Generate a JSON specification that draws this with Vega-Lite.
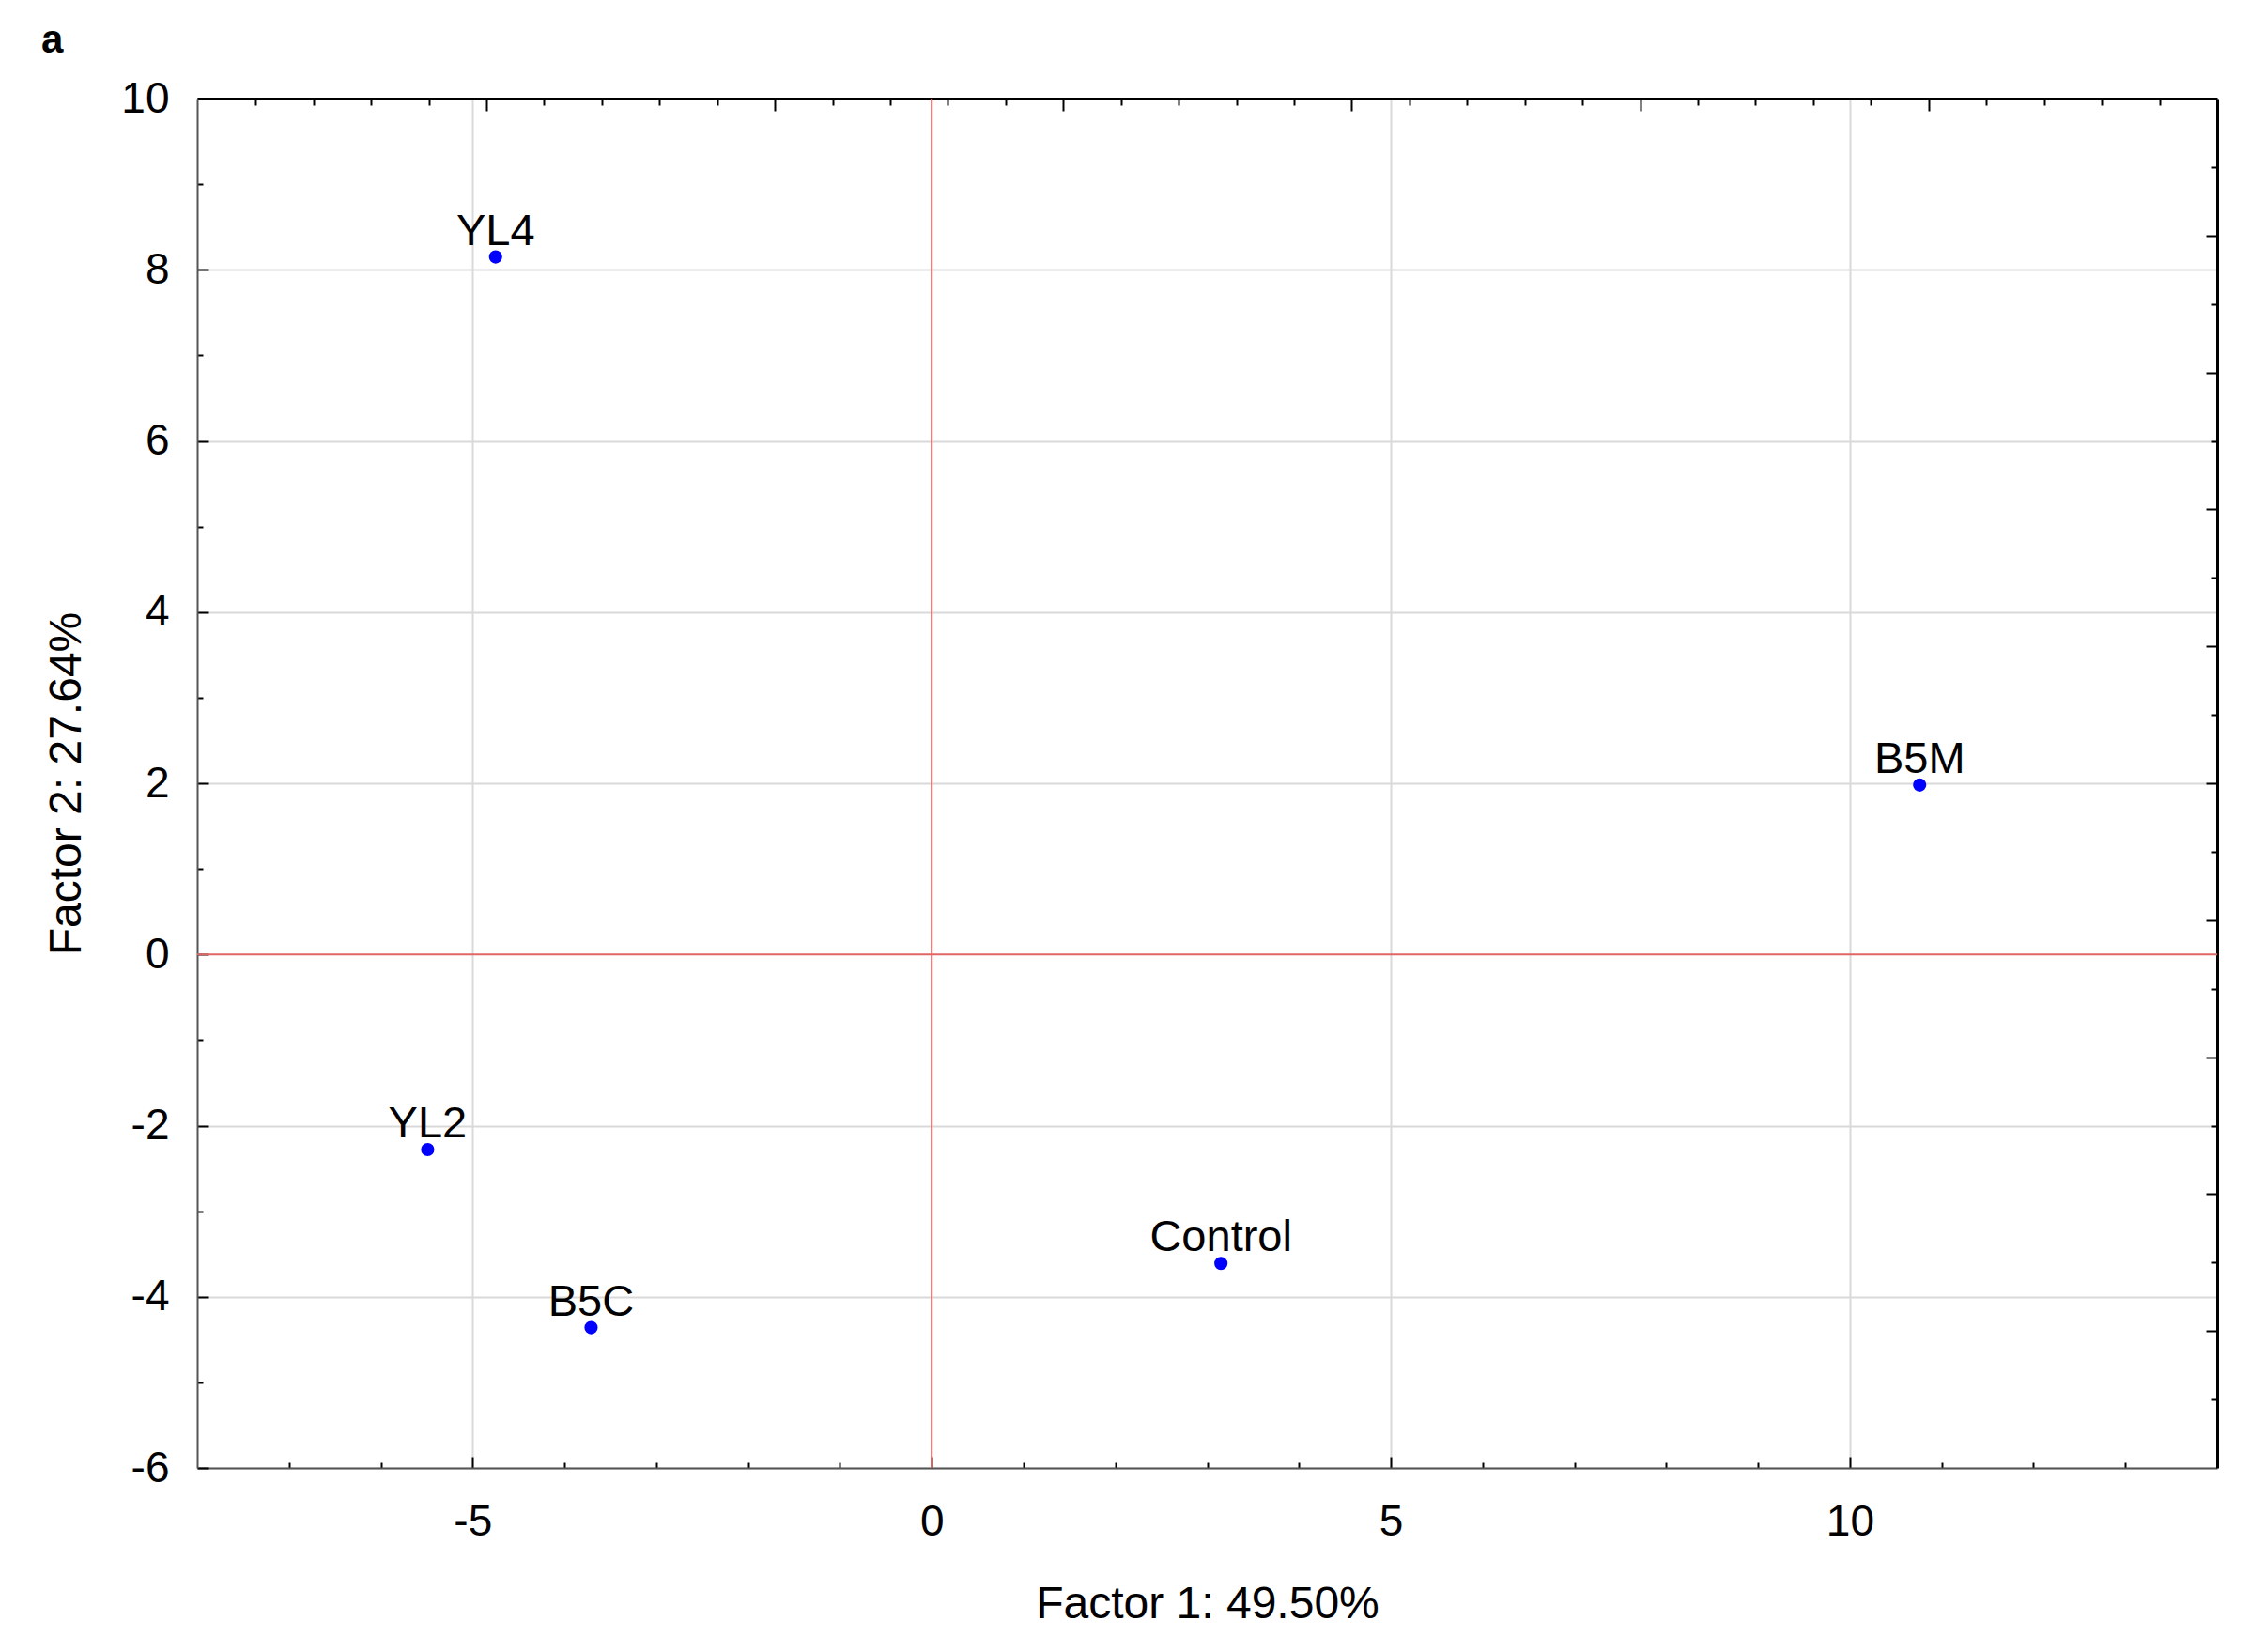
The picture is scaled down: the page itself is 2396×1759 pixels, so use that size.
{
  "$schema": "https://vega.github.io/schema/vega-lite/v6.json",
  "width": 2151,
  "height": 1458,
  "autosize": {"type": "none"},
  "padding": {"left": 210, "top": 105, "right": 35, "bottom": 196},
  "background": "white",
  "title": {
    "text": "a",
    "anchor": "start",
    "frame": "group",
    "orient": "top",
    "baseline": "alphabetic",
    "offset": 0,
    "dy": 16,
    "dx": -166,
    "font": "Liberation Sans",
    "fontSize": 42,
    "fontWeight": "bold",
    "color": "black"
  },
  "config": {
    "view": {"stroke": null},
    "font": "Liberation Sans",
    "axis": {"labelFont": "Liberation Sans", "titleFont": "Liberation Sans"}
  },
  "resolve": {"axis": {"x": "independent", "y": "independent"}},
  "data": {
    "values": [
      {"label": "YL4", "f1": -4.75, "f2": 8.15},
      {"label": "B5M", "f1": 10.76, "f2": 1.98},
      {"label": "YL2", "f1": -5.49, "f2": -2.28},
      {"label": "B5C", "f1": -3.71, "f2": -4.36},
      {"label": "Control", "f1": 3.15, "f2": -3.61}
    ]
  },
  "layer": [
    {
      "mark": {"type": "circle", "size": 200, "color": "#0000ff", "opacity": 1},
      "encoding": {
        "x": {
          "field": "f1", "type": "quantitative",
          "scale": {"domain": [-8, 14], "nice": false, "zero": false},
          "axis": {
            "orient": "bottom",
            "values": [-7,-6,-5,-4,-3,-2,-1,0,1,2,3,4,5,6,7,8,9,10,11,12,13],
            "title": "Factor 1: 49.50%",
            "titleFontSize": 48, "titleFontWeight": "normal", "titleColor": "black",
            "titleBaseline": "alphabetic", "titleY": 159,
            "labelExpr": "datum.value % 5 === 0 ? toString(datum.value) : ''",
            "labelFontSize": 46, "labelColor": "black", "labelPadding": 47,
            "labelOverlap": false, "labelBaseline": "top",
            "tickSize": {"condition": {"test": "datum.value % 5 === 0", "value": -12}, "value": -6},
            "tickColor": "black", "tickWidth": 2,
            "domainColor": "#555555", "domainWidth": 2,
            "grid": true, "gridColor": "#d9d9d9", "gridWidth": 2,
            "gridOpacity": {"condition": {"test": "datum.value % 5 === 0 && datum.value !== 0", "value": 1}, "value": 0}
          }
        },
        "y": {
          "field": "f2", "type": "quantitative",
          "scale": {"domain": [-6, 10], "nice": false, "zero": false},
          "axis": {
            "orient": "left",
            "values": [-6,-5,-4,-3,-2,-1,0,1,2,3,4,5,6,7,8,9,10],
            "title": "Factor 2: 27.64%",
            "titleFontSize": 48, "titleFontWeight": "normal", "titleColor": "black",
            "titleBaseline": "alphabetic", "titleX": -125,
            "labelExpr": "datum.value % 2 === 0 ? toString(datum.value) : ''",
            "labelFontSize": 46, "labelColor": "black", "labelPadding": 42,
            "labelOverlap": false,
            "tickSize": {"condition": {"test": "datum.value % 2 === 0", "value": -12}, "value": -6},
            "tickColor": "black", "tickWidth": 2,
            "domainColor": "#555555", "domainWidth": 2,
            "grid": true, "gridColor": "#d9d9d9", "gridWidth": 2,
            "gridOpacity": {"condition": {"test": "datum.value % 2 === 0 && datum.value !== 0", "value": 1}, "value": 0}
          }
        }
      }
    },
    {
      "mark": {"type": "text", "align": "center", "baseline": "alphabetic", "dy": -13, "fontSize": 47, "font": "Liberation Sans", "color": "black"},
      "encoding": {
        "x": {
          "field": "f1", "type": "quantitative",
          "scale": {"domain": [-8, 14], "nice": false, "zero": false},
          "axis": {
            "orient": "top",
            "values": [-7.363,-6.735,-6.107,-5.478,-4.85,-4.222,-3.593,-2.965,-2.337,-1.708,-1.08,-0.452,0.177,0.805,1.433,2.062,2.69,3.318,3.946,4.575,5.203,5.831,6.46,7.088,7.716,8.345,8.973,9.601,10.229,10.858,11.486,12.114,12.743,13.371],
            "labels": false, "title": null, "grid": false,
            "domainColor": "black", "domainWidth": 3,
            "tickColor": "black", "tickWidth": 2,
            "tickSize": {"condition": {"test": "indexof([-4.85,-1.708,1.433,4.575,7.716,10.858], datum.value) >= 0", "value": -13}, "value": -7}
          }
        },
        "y": {
          "field": "f2", "type": "quantitative",
          "scale": {"domain": [-6, 10], "nice": false, "zero": false},
          "axis": {
            "orient": "right",
            "values": [9.2,8.4,7.6,6.8,6.0,5.2,4.4,3.6,2.8,2.0,1.2,0.4,-0.4,-1.2,-2.0,-2.8,-3.6,-4.4,-5.2],
            "labels": false, "title": null, "grid": false,
            "domainColor": "black", "domainWidth": 3,
            "tickColor": "black", "tickWidth": 2,
            "tickSize": {"condition": {"test": "indexof([8.4,6.8,5.2,3.6,2.0,0.4,-1.2,-2.8,-4.4], datum.value) >= 0", "value": -12}, "value": -6}
          }
        },
        "text": {"field": "label", "type": "nominal"}
      }
    },
    {
      "data": {"values": [{"v": 0}]},
      "mark": {"type": "rule", "color": "#e06666", "strokeWidth": 2},
      "encoding": {
        "x": {"field": "v", "type": "quantitative", "scale": {"domain": [-8, 14], "nice": false, "zero": false}, "axis": null}
      }
    },
    {
      "data": {"values": [{"v": 0}]},
      "mark": {"type": "rule", "color": "#e06666", "strokeWidth": 2},
      "encoding": {
        "y": {"field": "v", "type": "quantitative", "scale": {"domain": [-6, 10], "nice": false, "zero": false}, "axis": null}
      }
    }
  ]
}
